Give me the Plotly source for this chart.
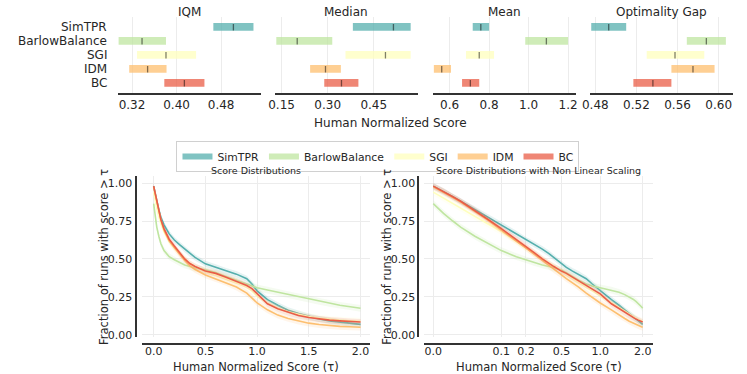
import numpy as np
import plotly.graph_objects as go

W, H = 747, 374

algorithms = ["SimTPR", "BarlowBalance", "SGI", "IDM", "BC"]
colors = ["#55afad", "#bfe5a0", "#ffffbe", "#fdbf6f", "#ea5d47"]

# interval estimates (lower, point, upper) per metric
iqm_low = [0.466, 0.296, 0.329, 0.315, 0.378]
iqm_mid = [0.502, 0.338, 0.381, 0.348, 0.414]
iqm_high = [0.538, 0.381, 0.435, 0.382, 0.450]

median_low = [0.382, 0.133, 0.358, 0.243, 0.289]
median_mid = [0.514, 0.201, 0.488, 0.293, 0.345]
median_high = [0.570, 0.315, 0.570, 0.343, 0.400]

mean_low = [0.717, 0.983, 0.683, 0.520, 0.663]
mean_mid = [0.758, 1.090, 0.750, 0.560, 0.705]
mean_high = [0.800, 1.200, 0.825, 0.607, 0.750]

gap_low = [0.476, 0.569, 0.530, 0.554, 0.517]
gap_mid = [0.493, 0.588, 0.5575, 0.575, 0.536]
gap_high = [0.510, 0.607, 0.586, 0.596, 0.554]

# performance profiles: fraction of runs with score > tau
tau = [0.0, 0.01, 0.02, 0.03, 0.05, 0.07, 0.1, 0.15, 0.2, 0.25, 0.3, 0.35, 0.4, 0.5,
       0.6, 0.7, 0.8, 0.9, 0.95, 1.0, 1.1, 1.2, 1.3, 1.4, 1.5, 1.6, 1.7, 1.8, 1.9, 2.0]
simtpr_profile = [0.98, 0.945, 0.91, 0.88, 0.825, 0.775, 0.725, 0.665, 0.625, 0.595, 0.565, 0.535,
                  0.51, 0.468, 0.445, 0.42, 0.40, 0.37, 0.335, 0.29, 0.232, 0.195, 0.162, 0.14,
                  0.12, 0.105, 0.092, 0.083, 0.076, 0.069]
barlow_profile = [0.864, 0.80, 0.75, 0.71, 0.65, 0.60, 0.555, 0.515, 0.495, 0.475, 0.46, 0.45,
                  0.44, 0.428, 0.41, 0.385, 0.36, 0.335, 0.322, 0.31, 0.295, 0.28, 0.265, 0.25,
                  0.235, 0.22, 0.207, 0.195, 0.185, 0.175]
sgi_profile = [0.94, 0.90, 0.865, 0.835, 0.78, 0.73, 0.68, 0.615, 0.57, 0.535, 0.50, 0.47,
               0.45, 0.415, 0.395, 0.37, 0.345, 0.315, 0.29, 0.255, 0.21, 0.175, 0.152, 0.135,
               0.12, 0.11, 0.102, 0.097, 0.093, 0.09]
idm_profile = [0.975, 0.94, 0.905, 0.875, 0.815, 0.755, 0.69, 0.62, 0.575, 0.53, 0.49, 0.455,
               0.43, 0.395, 0.37, 0.345, 0.315, 0.275, 0.245, 0.21, 0.165, 0.13, 0.108, 0.09,
               0.077, 0.068, 0.061, 0.056, 0.053, 0.05]
bc_profile = [0.98, 0.945, 0.91, 0.88, 0.82, 0.76, 0.70, 0.63, 0.585, 0.54, 0.50, 0.47,
              0.45, 0.42, 0.405, 0.38, 0.355, 0.325, 0.305, 0.27, 0.205, 0.172, 0.148, 0.128,
              0.114, 0.104, 0.097, 0.092, 0.088, 0.085]
band_halfwidth = [0.02, 0.022, 0.022, 0.022, 0.02]
nonlinear_ticks = [0.0, 0.1, 0.2, 0.5, 1.0, 2.0]

FONT = "DejaVu Sans"
TXT = "#262626"
SPINE = "#333333"
GRID = "#ececec"


def fx(px):
    return px / W


def fy(py):
    return 1 - py / H


def rgba(hexcol, a):
    h = hexcol.lstrip("#")
    r, g, b = int(h[0:2], 16), int(h[2:4], 16), int(h[4:6], 16)
    return f"rgba({r},{g},{b},{a})"


fig = go.Figure()

# ---- top row: interval estimates ----
panels = [
    ("IQM", iqm_low, iqm_mid, iqm_high, [0.32, 0.40, 0.48], ".2f", [0.294, 0.552], (111, 256.7)),
    ("Median", median_low, median_mid, median_high, [0.15, 0.30, 0.45], ".2f", [0.129, 0.593], (270.7, 415.3)),
    ("Mean", mean_low, mean_mid, mean_high, [0.6, 0.8, 1.0, 1.2], ".1f", [0.517, 1.24], (431, 575.7)),
    ("Optimality Gap", gap_low, gap_mid, gap_high, [0.48, 0.52, 0.56, 0.60], ".2f", [0.4749, 0.6138], (590, 734.7)),
]
n = len(algorithms)
ypos = [n - 1 - i for i in range(n)]
bar_h = 0.55
top_dom = [fy(94.3), fy(17)]

for k, (name, lo, mid, hi, ticks, fmt, rng, (x0, x1)) in enumerate(panels, start=1):
    xa, ya = f"x{k}", f"y{k}"
    fig.add_trace(go.Bar(
        y=ypos, x=[h - l for l, h in zip(lo, hi)], base=lo, orientation="h",
        width=bar_h, marker=dict(color=[rgba(c, 0.75) for c in colors], line=dict(width=0)),
        showlegend=False, hoverinfo="skip", xaxis=xa, yaxis=ya))
    mx, my = [], []
    for m, yy in zip(mid, ypos):
        mx += [m, m, None]
        my += [yy - 7.5 * bar_h / 16, yy + 6 * bar_h / 16, None]
    fig.add_trace(go.Scatter(
        x=mx, y=my, mode="lines", line=dict(color="rgba(0,0,0,0.5)", width=1.3),
        showlegend=False, hoverinfo="skip", xaxis=xa, yaxis=ya))
    key = "" if k == 1 else str(k)
    fig.layout[f"xaxis{key}"] = dict(
        domain=[fx(x0), fx(x1)], range=rng, anchor=ya, tickvals=ticks, tickformat=fmt,
        showline=True, linewidth=2, linecolor=SPINE, showgrid=True, gridcolor=GRID,
        zeroline=False, ticks="", tickfont=dict(size=12, color=TXT))
    fig.layout[f"yaxis{key}"] = dict(
        domain=top_dom, range=[-0.725, 4.72], anchor=xa, showgrid=False, zeroline=False,
        showline=False, ticks="", showticklabels=False)
    fig.add_annotation(x=fx((x0 + x1) / 2), y=fy(12), xref="paper", yref="paper",
                       text=name, showarrow=False, font=dict(size=12, color=TXT),
                       xanchor="center", yanchor="middle")

# algorithm names on the left of the first panel
for alg, yy in zip(algorithms, ypos):
    fig.add_annotation(x=fx(102.5), y=yy, xref="paper", yref="y", text=alg, showarrow=False,
                       font=dict(size=12, color=TXT), xanchor="right", yanchor="middle")

fig.add_annotation(x=fx(388), y=fy(125), xref="paper", yref="paper",
                   text="Human Normalized Score", showarrow=False,
                   font=dict(size=12, color=TXT), xanchor="center", yanchor="middle")

# ---- bottom row: performance profiles ----
profiles = np.array([simtpr_profile, barlow_profile, sgi_profile, idm_profile, bc_profile])
tau_arr = np.array(tau)
x_nl = 1 - profiles.mean(axis=0)
tick_idx = [tau.index(t) for t in nonlinear_ticks]
nl_tickvals = [x_nl[i] for i in tick_idx]
nl_scale = (x_nl[tick_idx[-1]] - x_nl[tick_idx[0]]) / (643.3 - 431)
nl_range = [x_nl[tick_idx[0]] - (431 - 422) * nl_scale, x_nl[tick_idx[-1]] + (654 - 643.3) * nl_scale]

for xa, ya, xs in [("x5", "y5", tau_arr), ("x6", "y6", x_nl)]:
    for i, alg in enumerate(algorithms):
        prof = profiles[i]
        hw = band_halfwidth[i]
        fig.add_trace(go.Scatter(
            x=np.concatenate([xs, xs[::-1]]),
            y=np.concatenate([np.clip(prof + hw, 0, 1), np.clip(prof - hw, 0, 1)[::-1]]),
            fill="toself", fillcolor=rgba(colors[i], 0.15), mode="none",
            showlegend=False, hoverinfo="skip", xaxis=xa, yaxis=ya))
        fig.add_trace(go.Scatter(
            x=xs, y=prof, mode="lines", line=dict(color=colors[i], width=1.6),
            showlegend=False, xaxis=xa, yaxis=ya, name=alg))

# legend entries
for i, alg in enumerate(algorithms):
    fig.add_trace(go.Scatter(
        x=[None], y=[None], mode="none", fill="toself", fillcolor=rgba(colors[i], 0.75),
        name=alg, showlegend=True, xaxis="x5", yaxis="y5"))

bot_ydom = [fy(341.7), fy(178.3)]
axis_common = dict(showline=True, linewidth=2, linecolor=SPINE, showgrid=True, gridcolor=GRID,
                   zeroline=False, ticks="", tickfont=dict(size=11, color=TXT))
fig.update_layout(
    xaxis5=dict(domain=[fx(136), fx(367.3)], range=[-0.111, 2.095], anchor="free",
                position=fy(348.3), tickvals=[0, 0.5, 1.0, 1.5, 2.0], tickformat=".1f",
                ticklabelstandoff=-3, **axis_common),
    yaxis5=dict(domain=bot_ydom, range=[-0.015, 1.047], anchor="free", position=fx(129.3),
                tickvals=[0, 0.25, 0.5, 0.75, 1.0], tickformat=".2f", **axis_common),
    xaxis6=dict(domain=[fx(422), fx(654)], range=nl_range, anchor="free",
                position=fy(348.3), tickvals=nl_tickvals, ticklabelstandoff=-3,
                ticktext=[f"{t:.1f}" for t in nonlinear_ticks], **axis_common),
    yaxis6=dict(domain=bot_ydom, range=[-0.015, 1.047], anchor="free", position=fx(416),
                tickvals=[0, 0.25, 0.5, 0.75, 1.0], tickformat=".2f", **axis_common),
)

for cx, title in [((136 + 367.3) / 2, "Score Distributions"),
                  ((422 + 654) / 2, "Score Distributions with Non Linear Scaling")]:
    fig.add_annotation(x=fx(cx), y=fy(172.5), xref="paper", yref="paper", text=title,
                       showarrow=False, font=dict(size=9.5, color=TXT),
                       xanchor="center", yanchor="middle")
    fig.add_annotation(x=fx(cx), y=fy(373.5), xref="paper", yref="paper",
                       text="Human Normalized Score (τ)", showarrow=False, yshift=-7,
                       font=dict(size=11.5, color=TXT), xanchor="center", yanchor="bottom")
for cx in [96.7, 383.4]:
    fig.add_annotation(x=fx(cx), y=fy(260), xref="paper", yref="paper",
                       text="Fraction of runs with score > τ", textangle=-90, showarrow=False,
                       font=dict(size=11.5, color=TXT), xanchor="center", yanchor="middle")

fig.update_layout(
    width=W, height=H, autosize=False,
    margin=dict(l=0, r=0, t=0, b=0),
    paper_bgcolor="white", plot_bgcolor="white",
    font=dict(family=FONT, color=TXT),
    barmode="overlay",
    legend=dict(orientation="h", x=fx(375), xanchor="center", y=fy(143), yanchor="top",
                bordercolor="#d0d0d0", borderwidth=1, bgcolor="white",
                font=dict(size=10.8, color=TXT)),
)

fig.write_html("out.html", config={"displayModeBar": False},
               post_script="document.body.style.margin='0';")
